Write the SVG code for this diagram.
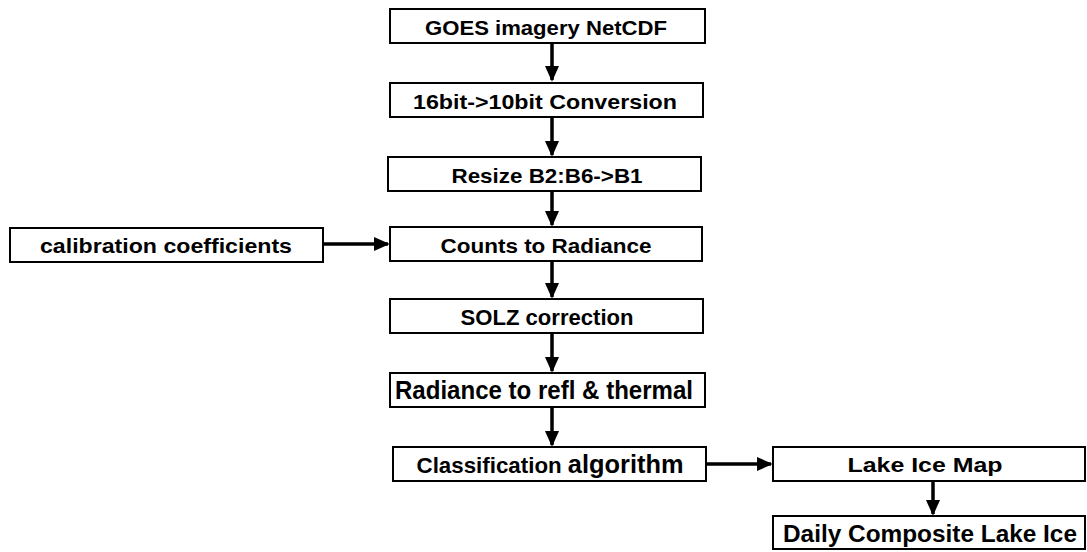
<svg xmlns="http://www.w3.org/2000/svg" width="1087" height="552" viewBox="0 0 1087 552">
<style>
.box{fill:#fff;stroke:#000;stroke-width:2}
.t{font-family:"Liberation Sans",Arial,sans-serif;font-weight:bold;fill:#000;text-anchor:middle}
.c{stroke:#000;stroke-width:3.5;fill:none}
</style>
<defs>
<marker id="ah" markerWidth="4.5" markerHeight="4" refX="4" refY="2" orient="auto" markerUnits="strokeWidth">
<path d="M0,0 L4.5,2 L0,4 Z" fill="#000"/>
</marker>
</defs>
<rect width="1087" height="552" fill="#fff"/>
<g id="connectors">
<line class="c" x1="552" y1="43" x2="552" y2="80" marker-end="url(#ah)"/>
<line class="c" x1="552" y1="117" x2="552" y2="155" marker-end="url(#ah)"/>
<line class="c" x1="552" y1="191" x2="552" y2="225" marker-end="url(#ah)"/>
<line class="c" x1="323" y1="244" x2="388" y2="244" marker-end="url(#ah)"/>
<line class="c" x1="552" y1="261" x2="552" y2="297" marker-end="url(#ah)"/>
<line class="c" x1="552" y1="333" x2="552" y2="371" marker-end="url(#ah)"/>
<line class="c" x1="552" y1="407" x2="552" y2="445" marker-end="url(#ah)"/>
<line class="c" x1="706" y1="464" x2="771" y2="464" marker-end="url(#ah)"/>
<line class="c" x1="933" y1="481" x2="933" y2="514" marker-end="url(#ah)"/>
</g>
<g id="n1"><rect class="box" x="390" y="9" width="315" height="34"/><text class="t" x="546" y="35" font-size="21" textLength="242" lengthAdjust="spacingAndGlyphs">GOES imagery NetCDF</text></g>
<g id="n2"><rect class="box" x="390" y="83" width="313" height="34"/><text class="t" x="545" y="109" font-size="21" textLength="264" lengthAdjust="spacingAndGlyphs">16bit-&gt;10bit Conversion</text></g>
<g id="n3"><rect class="box" x="388" y="157" width="313" height="34"/><text class="t" x="547" y="183" font-size="21" textLength="191" lengthAdjust="spacingAndGlyphs">Resize B2:B6-&gt;B1</text></g>
<g id="n4"><rect class="box" x="390" y="227" width="312" height="34"/><text class="t" x="546" y="253" font-size="21" textLength="211" lengthAdjust="spacingAndGlyphs">Counts to Radiance</text></g>
<g id="n0"><rect class="box" x="10" y="228" width="313" height="34"/><text class="t" x="166" y="253" font-size="21" textLength="252" lengthAdjust="spacingAndGlyphs">calibration coefficients</text></g>
<g id="n5"><rect class="box" x="390" y="299" width="313" height="34"/><text class="t" x="547" y="325" font-size="22" textLength="173" lengthAdjust="spacingAndGlyphs">SOLZ correction</text></g>
<g id="n6"><rect class="box" x="390" y="373" width="315" height="34"/><text class="t" x="544" y="399" font-size="25" textLength="298" lengthAdjust="spacingAndGlyphs">Radiance to refl &amp; thermal</text></g>
<g id="n7"><rect class="box" x="393" y="447" width="313" height="34"/><text class="t" x="550" y="473" font-size="22" textLength="267" lengthAdjust="spacingAndGlyphs">Classification <tspan font-size="25">algorithm</tspan></text></g>
<g id="n8"><rect class="box" x="773" y="447" width="312" height="34"/><text class="t" x="925" y="472" font-size="21" textLength="155" lengthAdjust="spacingAndGlyphs">Lake Ice Map</text></g>
<g id="n9"><rect class="box" x="773" y="516" width="312" height="33"/><text class="t" x="930" y="542" font-size="24" textLength="294" lengthAdjust="spacingAndGlyphs">Daily Composite Lake Ice</text></g>
</svg>
